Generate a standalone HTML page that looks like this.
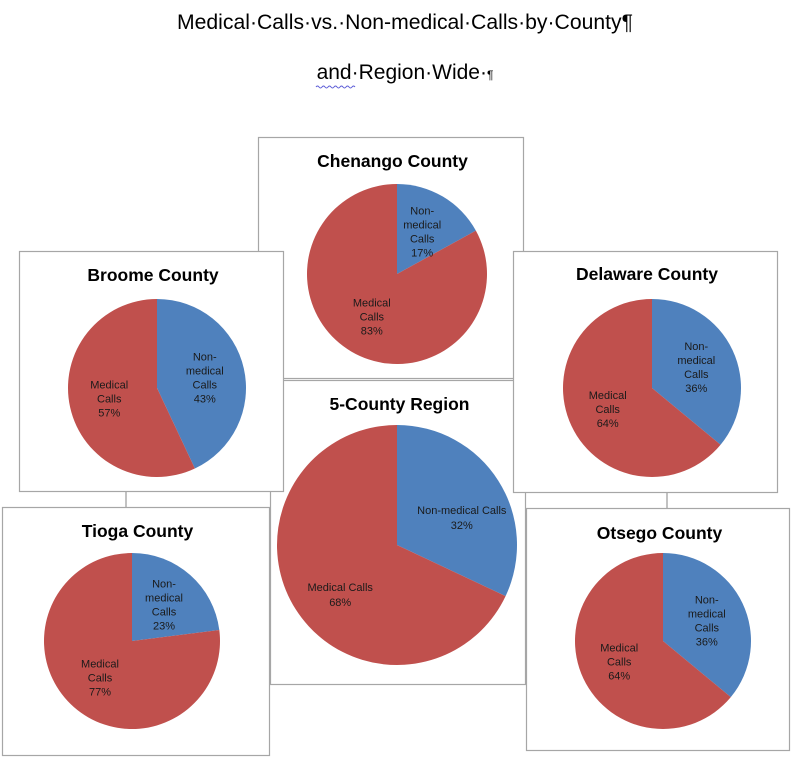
<!DOCTYPE html>
<html><head><meta charset="utf-8">
<style>
body{margin:0;background:#fff;width:795px;height:772px;overflow:hidden;font-family:"Liberation Sans",sans-serif}
svg{position:absolute;left:0;top:0}
</style></head>
<body>
<svg id="chart" width="795" height="772" viewBox="0 0 795 772" xmlns="http://www.w3.org/2000/svg">
<text x="405" y="29" font-size="21" text-anchor="middle" fill="#000" font-family="Liberation Sans, sans-serif" textLength="456" lengthAdjust="spacingAndGlyphs">Medical·Calls·vs.·Non-medical·Calls·by·County¶</text>
<text x="405" y="79" font-size="21" text-anchor="middle" fill="#000" font-family="Liberation Sans, sans-serif">and·Region·Wide·<tspan font-size="12">¶</tspan></text>
<path d="M316 87 q1.5 -2 3 0 t3 0 t3 0 t3 0 t3 0 t3 0 t3 0 t3 0 t3 0 t3 0 t3 0 t3 0 t3 0" stroke="#5b5bd6" stroke-width="1" fill="none"/>
<line x1="126" y1="491" x2="126" y2="507" stroke="#999" stroke-width="1.2"/>
<line x1="667" y1="492" x2="667" y2="508" stroke="#999" stroke-width="1.2"/>
<g id="pies"></g>
</svg>
<script>
const regions = ["5-County Region","Chenango County","Broome County","Delaware County","Tioga County","Otsego County"];
const nonMedical = [32,17,43,36,23,36];
const medical = [68,83,57,64,77,64];
// layout (not data)
const boxes = [
 {x:270,y:380,w:255,h:304,cx:397,cy:545,r:120,ty:410,big:true},
 {x:258,y:137,w:265,h:241,cx:397,cy:274,r:90,ty:167},
 {x:19,y:251,w:264,h:240,cx:157,cy:388,r:89,ty:281},
 {x:513,y:251,w:264,h:241,cx:652,cy:388,r:89,ty:280},
 {x:2,y:507,w:267,h:248,cx:132,cy:641,r:88,ty:537},
 {x:526,y:508,w:263,h:242,cx:663,cy:641,r:88,ty:539}
];
const NS="http://www.w3.org/2000/svg";
const g=document.getElementById('pies');
function pt(cx,cy,r,frac){const a=frac*2*Math.PI;return [cx+r*Math.sin(a),cy-r*Math.cos(a)];}
function arc(cx,cy,r,f0,f1){const [x0,y0]=pt(cx,cy,r,f0),[x1,y1]=pt(cx,cy,r,f1);const large=(f1-f0)>0.5?1:0;return `M${cx},${cy} L${x0},${y0} A${r},${r} 0 ${large} 1 ${x1},${y1} Z`;}
function mk(tag,attrs){const e=document.createElementNS(NS,tag);for(const k in attrs)e.setAttribute(k,attrs[k]);return e;}
regions.forEach((name,i)=>{
  const b=boxes[i];
  const grp=mk('g',{});
  
  
  const rect=mk('rect',{x:b.x+0.5,y:b.y+0.5,width:b.w,height:b.h,fill:'#fff',stroke:'#a6a6a6','stroke-width':1.2});
  
  
  grp.appendChild(rect);
  const t=mk('text',{x:b.x+b.w/2+2,y:b.ty,'font-size':17.5,'font-weight':'bold','text-anchor':'middle',fill:'#000'});
  t.textContent=name;
  
  
  grp.appendChild(t);
  const tot=nonMedical[i]+medical[i];
  const fNon=nonMedical[i]/tot;
  const s1=mk('path',{d:arc(b.cx,b.cy,b.r,0,fNon),fill:'#4f81bd'});
  
  
  grp.appendChild(s1);
  const s2=mk('path',{d:arc(b.cx,b.cy,b.r,fNon,1),fill:'#c0504d'});
  
  
  grp.appendChild(s2);
  const lf=b.big?0.6:0.55;
  const lines=[
    {pos:pt(b.cx,b.cy,b.r*lf,fNon/2),txt:b.big?["Non-medical Calls",nonMedical[i]+"%"]:["Non-","medical","Calls",nonMedical[i]+"%"],nm:'label-non-medical'},
    {pos:pt(b.cx,b.cy,b.r*lf,(fNon+1)/2),txt:b.big?["Medical Calls",medical[i]+"%"]:["Medical","Calls",medical[i]+"%"],nm:'label-medical'}
  ];
  lines.forEach(L=>{
    const lh=b.big?15:14;
    const off=b.big?11:0;
    const tx=mk('text',{x:L.pos[0]+(b.big?4:0),y:L.pos[1]-(L.txt.length-1)*lh/2+4+off,'font-size':11,'text-anchor':'middle',fill:'#1a1a1a'});
    
    
    L.txt.forEach((s,k)=>{const ts=mk('tspan',{x:L.pos[0]+(b.big?4:0),dy:k?lh:0});ts.textContent=s;tx.appendChild(ts);});
    grp.appendChild(tx);
  });
  g.appendChild(grp);
});
</script>
</body></html>
